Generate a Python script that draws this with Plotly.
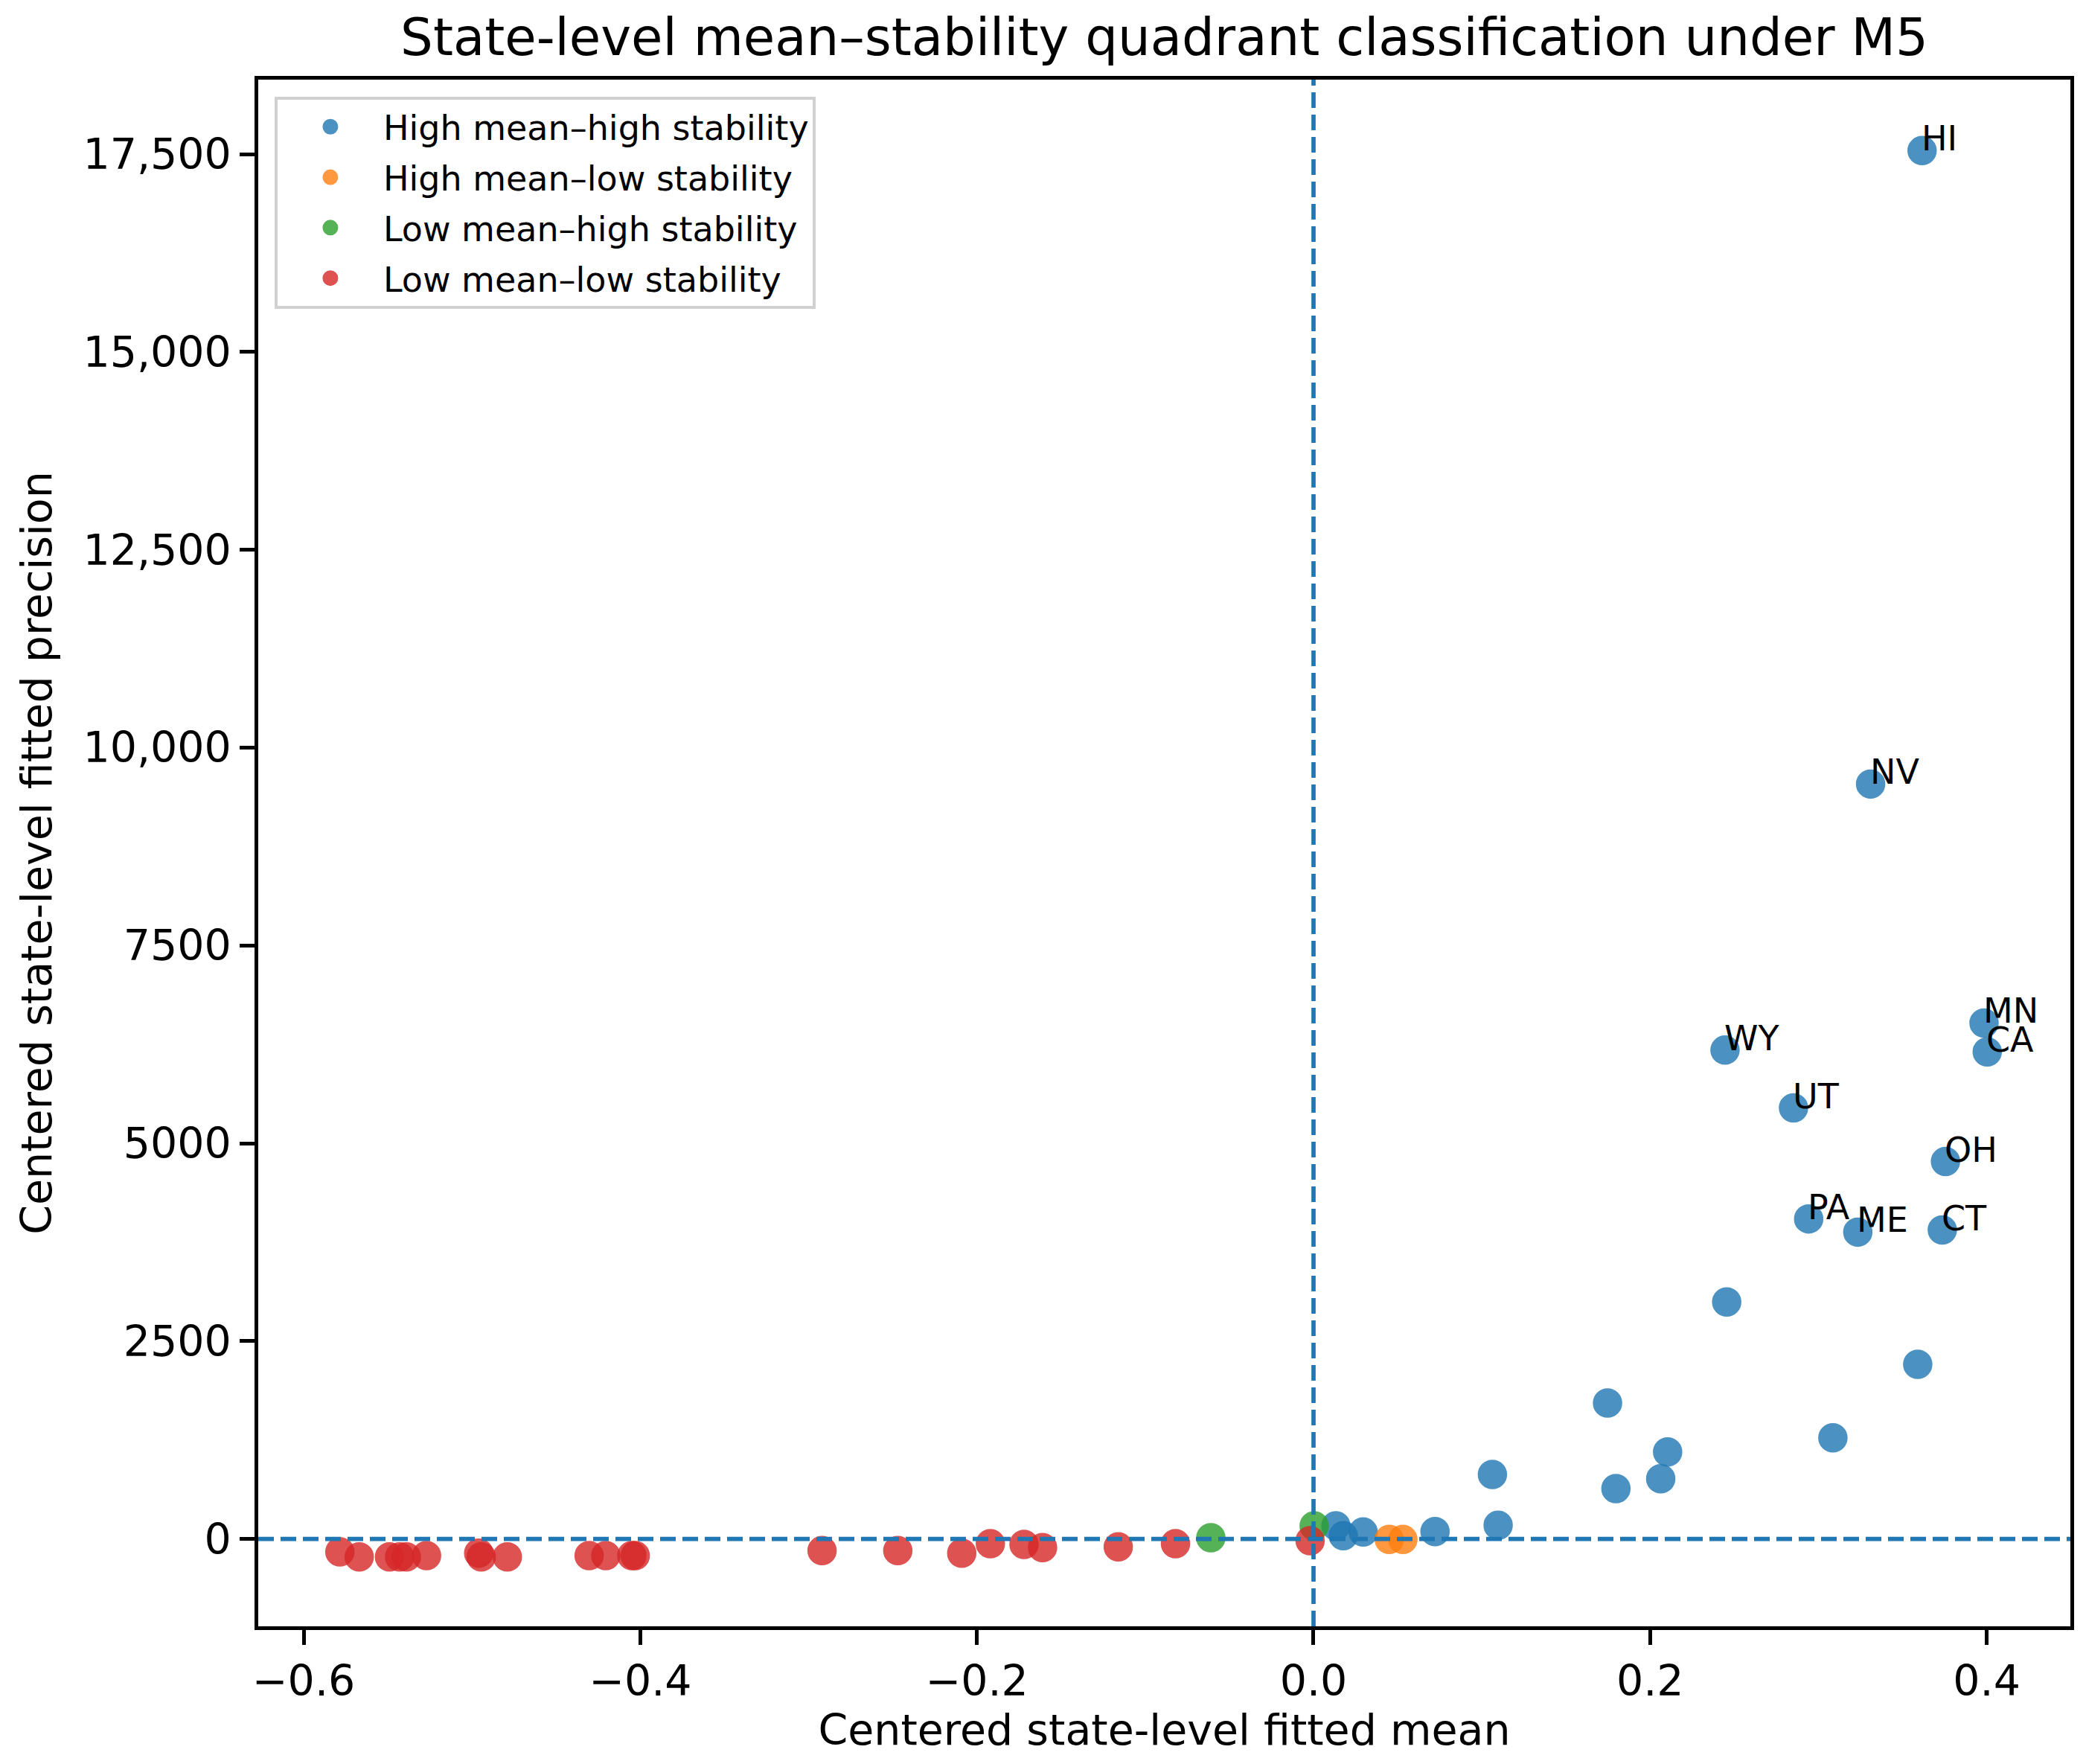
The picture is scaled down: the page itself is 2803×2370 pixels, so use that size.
import plotly.graph_objects as go

# ---------------- data ----------------
# High mean–high stability
hh_label = ["HI", "NV", "MN", "CA", "WY", "UT", "OH", "PA", "ME", "CT",
            "", "", "", "", "", "", "", "", "", "", "", "", ""]
hh_x = [0.3616, 0.331, 0.3984, 0.4003, 0.2445, 0.2852, 0.3755, 0.2942, 0.3234, 0.3736,
        0.2455, 0.359, 0.1747, 0.3086, 0.2104, 0.1063, 0.2063, 0.1797, 0.1097, 0.0722,
        0.0295, 0.0177, 0.0133]
hh_y = [17544, 9540, 6520, 6155, 6178, 5447, 4770, 4045, 3878, 3905,
        2995, 2207, 1718, 1279, 1100, 815, 762, 637, 173, 94,
        88, 41, 166]

# High mean–low stability
hl_x = [0.0450, 0.0531]
hl_y = [-6, -6]

# Low mean–high stability
lh_x = [0.0004, -0.0610]
lh_y = [166, 16]

# Low mean–low stability
ll_x = [-0.5785, -0.567, -0.549, -0.543, -0.539, -0.527, -0.496, -0.4945, -0.479,
        -0.4304, -0.4205, -0.405, -0.403,
        -0.292, -0.247, -0.209, -0.192, -0.172, -0.161, -0.116, -0.082, -0.002]
ll_y = [-163, -226, -226, -226, -226, -210, -179, -226, -226,
        -210, -210, -210, -210,
        -147, -147, -179, -59, -69, -109, -100, -59, -22]

group_names = ["High mean\u2013high stability", "High mean\u2013low stability",
               "Low mean\u2013high stability", "Low mean\u2013low stability"]
group_colors = ["#1f77b4", "#ff7f0e", "#2ca02c", "#d62728"]

x_tickvals = [-0.6, -0.4, -0.2, 0.0, 0.2, 0.4]
x_ticktext = ["\u22120.6", "\u22120.4", "\u22120.2", "0.0", "0.2", "0.4"]
y_tickvals = [0, 2500, 5000, 7500, 10000, 12500, 15000, 17500]
y_ticktext = ["0", "2500", "5000", "7500", "10,000", "12,500", "15,000", "17,500"]

# ---------------- figure ----------------
W, H = 2803, 2370
FONT = "DejaVu Sans"
fig = go.Figure()

series = [(hh_x, hh_y), (hl_x, hl_y), (lh_x, lh_y), (ll_x, ll_y)]
for i, ((xs, ys), name, col) in enumerate(zip(series, group_names, group_colors)):
    fig.add_trace(go.Scatter(
        x=xs, y=ys, mode="markers", name=name, legendgroup=f"g{i}",
        marker=dict(size=34, color=col, opacity=0.8,
                    line=dict(color=col, width=5.5)),
        hoverinfo="skip",
    ))

for lab, xv, yv in zip(hh_label, hh_x, hh_y):
    if lab:
        fig.add_annotation(x=xv, y=yv, text=lab, showarrow=False,
                           xanchor="left", yanchor="bottom",
                           xshift=-2, yshift=-12, borderpad=0,
                           font=dict(family=FONT, size=46, color="black"))

fig.add_hline(y=0, line=dict(color="#1f77b4", width=5.7, dash="21px,9px"), layer="above")
fig.add_vline(x=0, line=dict(color="#1f77b4", width=5.7, dash="21px,9px"), layer="above")

axis_common = dict(showgrid=False, zeroline=False, showline=True, mirror=True,
                   linecolor="black", linewidth=4.5, ticks="outside", ticklen=20,
                   tickwidth=4.5, tickcolor="black",
                   tickfont=dict(family=FONT, size=57, color="black"))

fig.update_xaxes(range=[-0.627, 0.4497], tickmode="array", tickvals=x_tickvals,
                 ticktext=x_ticktext,
                 title=dict(text="Centered state-level fitted mean", standoff=12,
                            font=dict(family=FONT, size=57, color="black")),
                 **axis_common)
fig.update_yaxes(range=[-1103, 18441], tickmode="array", tickvals=y_tickvals,
                 ticktext=y_ticktext,
                 title=dict(text="Centered state-level fitted precision", standoff=25,
                            font=dict(family=FONT, size=57, color="black")),
                 **axis_common)

fig.update_layout(
    width=W, height=H,
    margin=dict(l=347, r=21, t=107, b=185, autoexpand=False),
    paper_bgcolor="white", plot_bgcolor="white",
    font=dict(family=FONT, color="black"),
    title=dict(text="State-level mean\u2013stability quadrant classification under M5",
               x=0.5, xanchor="center", xref="paper",
               y=1 - 50 / H, yanchor="middle", yref="container",
               font=dict(family=FONT, size=69, color="black")),
    legend=dict(x=0.009, y=0.989, xanchor="left", yanchor="top",
                bgcolor="rgba(255,255,255,0.8)", bordercolor="#d0d0d0", borderwidth=4,
                font=dict(family=FONT, size=46, color="black"),
                itemwidth=132, tracegroupgap=5, traceorder="grouped"),
    showlegend=True,
)

fig.write_html("out.html", config={"displayModeBar": False},
               post_script="document.body.style.margin='0';document.body.style.overflow='hidden';")
